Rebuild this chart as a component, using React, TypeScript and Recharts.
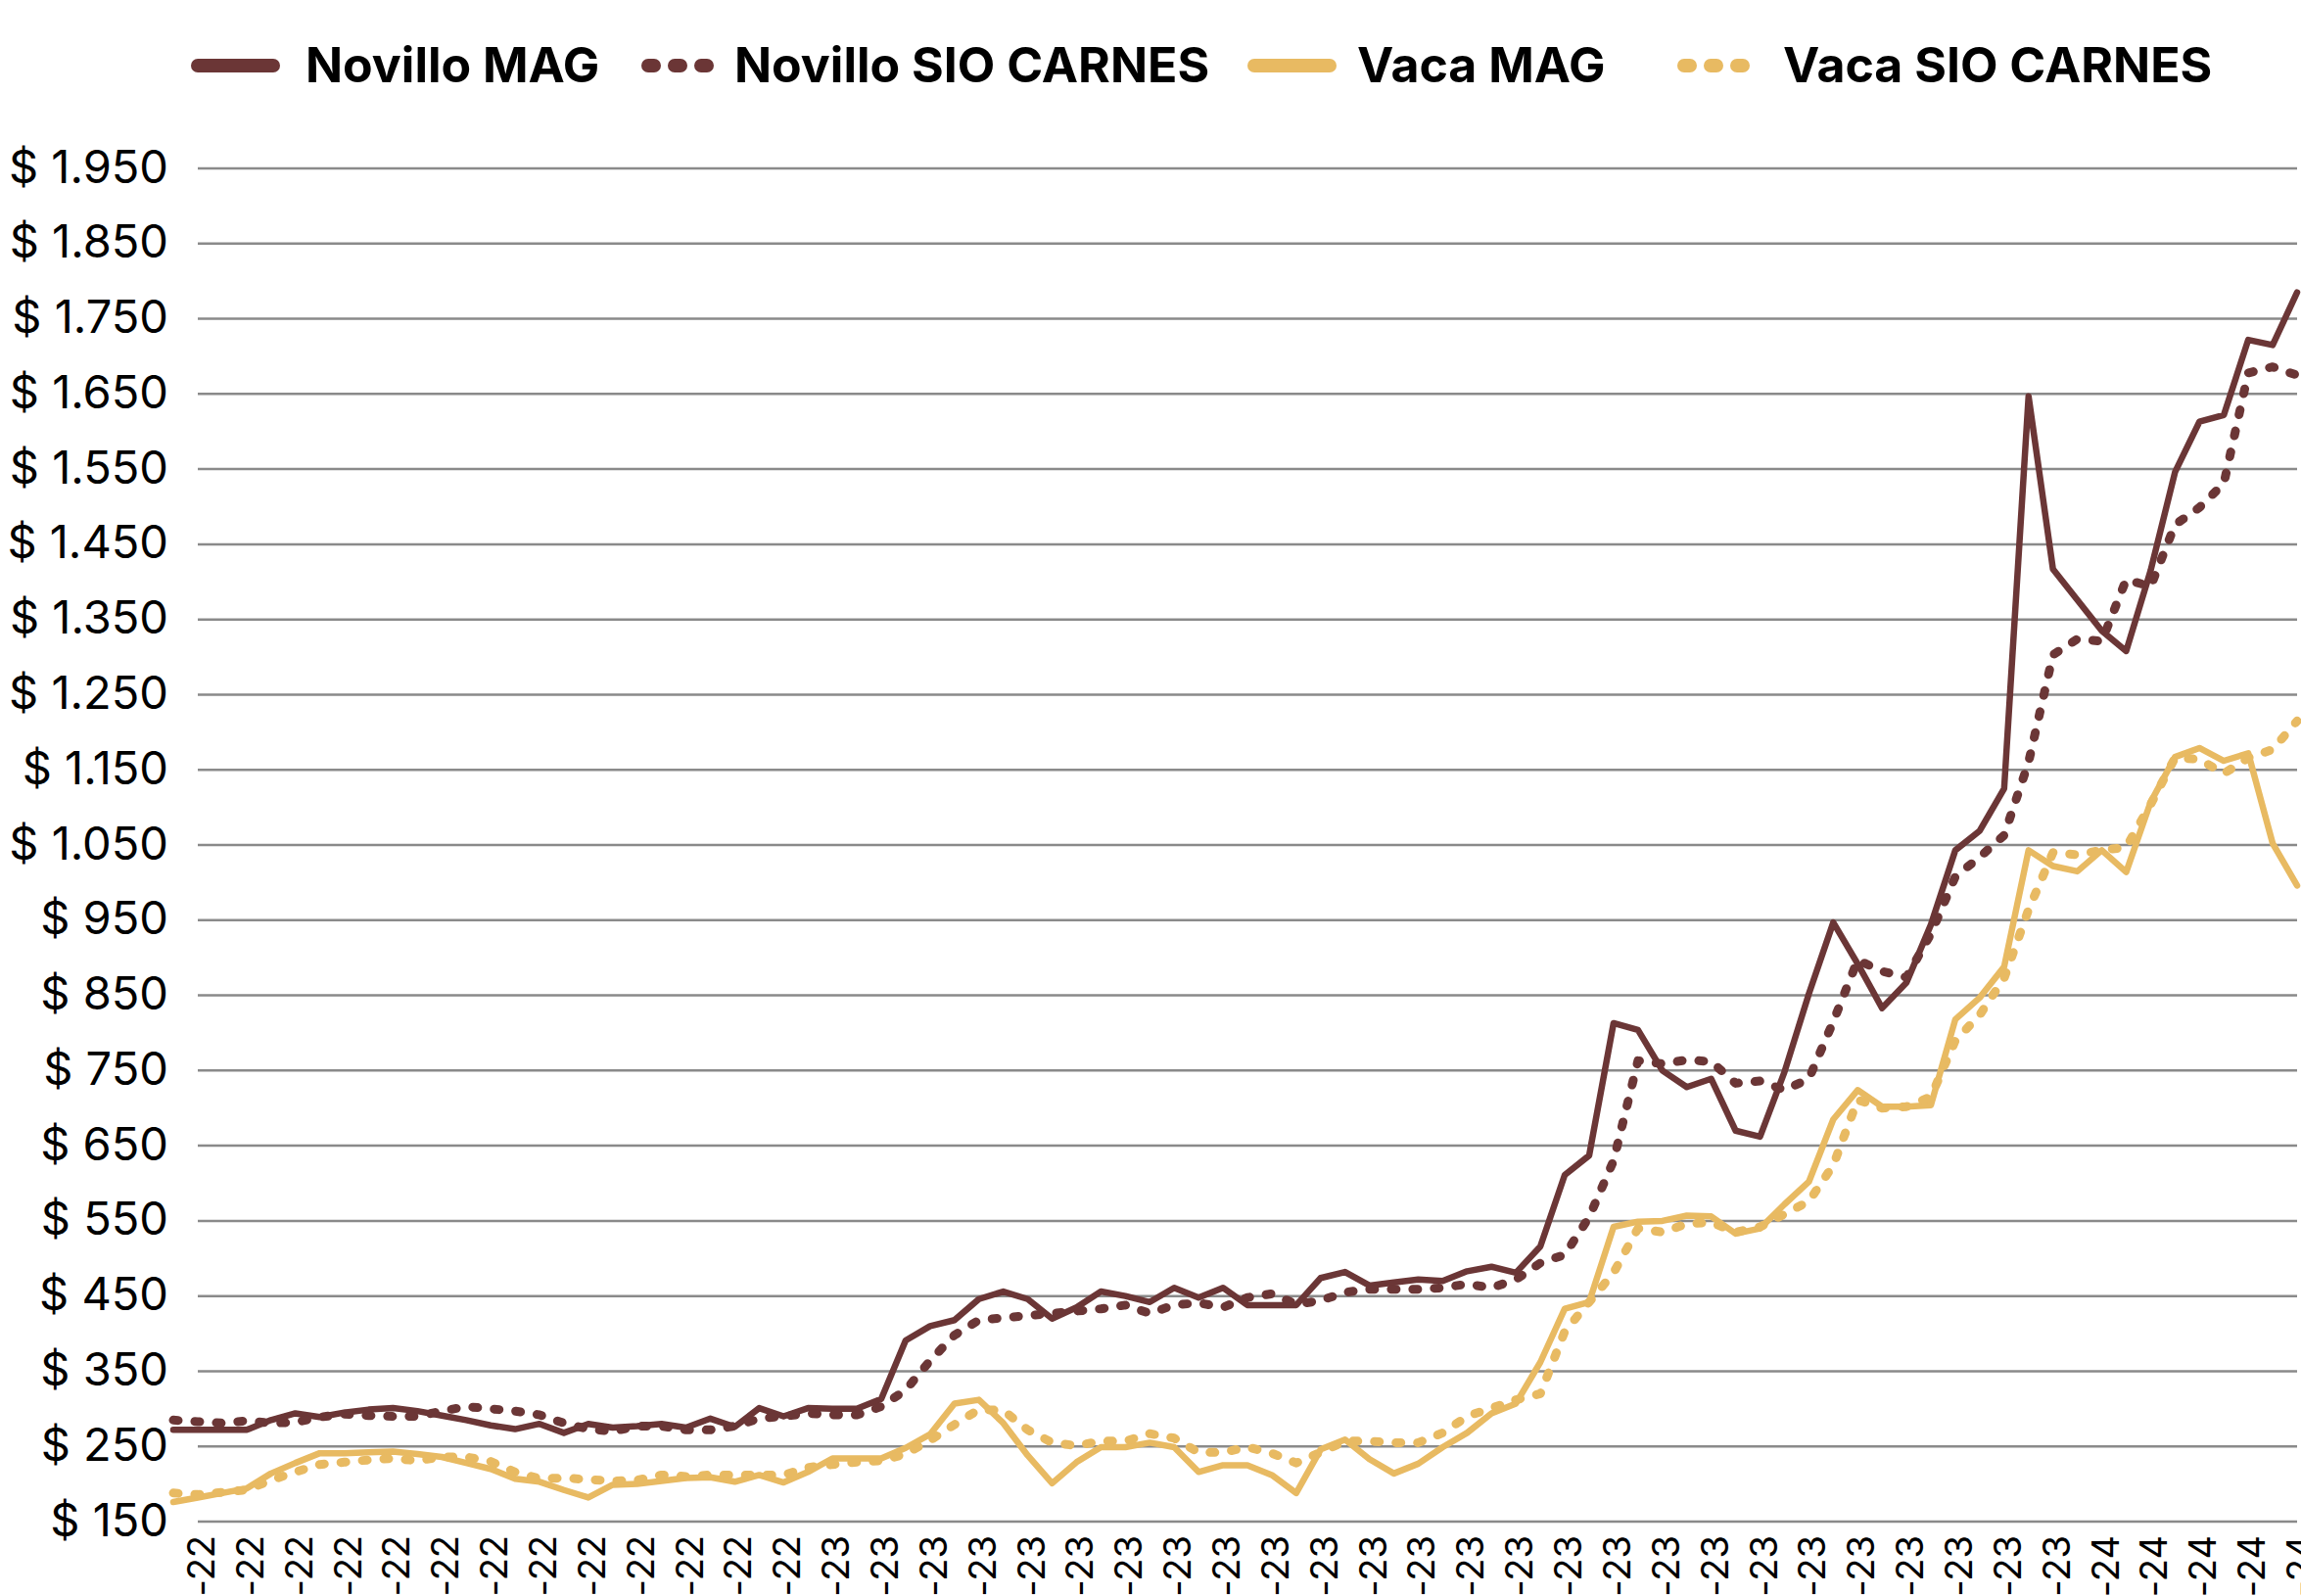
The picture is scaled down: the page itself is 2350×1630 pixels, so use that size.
import { CartesianGrid, Legend, Line, LineChart, XAxis, YAxis } from 'recharts';

// weekly price series, Jul-2022 .. Mar-2024
const weeks = [
  '1-jul-22', '8-jul-22', '15-jul-22', '22-jul-22', '29-jul-22', '5-ago-22', '12-ago-22', '19-ago-22',
  '26-ago-22', '2-sep-22', '9-sep-22', '16-sep-22', '23-sep-22', '30-sep-22', '7-oct-22', '14-oct-22',
  '21-oct-22', '28-oct-22', '4-nov-22', '11-nov-22', '18-nov-22', '25-nov-22', '2-dic-22', '9-dic-22',
  '16-dic-22', '23-dic-22', '30-dic-22', '6-ene-23', '13-ene-23', '20-ene-23', '27-ene-23', '3-feb-23',
  '10-feb-23', '17-feb-23', '24-feb-23', '3-mar-23', '10-mar-23', '17-mar-23', '24-mar-23', '31-mar-23',
  '7-abr-23', '14-abr-23', '21-abr-23', '28-abr-23', '5-may-23', '12-may-23', '19-may-23', '26-may-23',
  '2-jun-23', '9-jun-23', '16-jun-23', '23-jun-23', '30-jun-23', '7-jul-23', '14-jul-23', '21-jul-23',
  '28-jul-23', '4-ago-23', '11-ago-23', '18-ago-23', '25-ago-23', '1-sep-23', '8-sep-23', '15-sep-23',
  '22-sep-23', '29-sep-23', '6-oct-23', '13-oct-23', '20-oct-23', '27-oct-23', '3-nov-23', '10-nov-23',
  '17-nov-23', '24-nov-23', '1-dic-23', '8-dic-23', '15-dic-23', '22-dic-23', '29-dic-23', '5-ene-24',
  '12-ene-24', '19-ene-24', '26-ene-24', '2-feb-24', '9-feb-24', '16-feb-24', '23-feb-24', '1-mar-24',
];

const novilloMag = [
  272, 272, 272, 272, 285, 294, 289, 295, 299, 301,
  297, 291, 285, 278, 273, 280, 268, 280, 275, 277,
  280, 275, 287, 276, 301, 290, 301, 300, 300, 313,
  391, 410, 418, 446, 456, 446, 420, 435, 456, 450,
  442, 461, 448, 461, 438, 438, 438, 474, 482, 464,
  468, 472, 470, 483, 489, 481, 516, 611, 637, 813,
  804, 750, 728, 739, 670, 662, 748, 852, 947, 892,
  833, 867, 944, 1043, 1069, 1125, 1647, 1417, 1376, 1335,
  1308, 1415, 1546, 1613, 1622, 1722, 1715, 1785,
];

const novilloSio = [
  285, 283, 281, 284, 281, 282, 289, 293, 291, 290,
  290, 297, 303, 300, 297, 292, 281, 273, 270, 277,
  277, 272, 272, 277, 287, 290, 294, 292, 292, 303,
  325, 364, 398, 418, 421, 424, 427, 430, 433, 438,
  427, 438, 441, 435, 448, 453, 439, 444, 455, 459,
  459, 459, 461, 466, 461, 472, 494, 505, 555, 630,
  763, 759, 764, 762, 733, 736, 724, 739, 815, 897,
  882, 874, 932, 1008, 1034, 1063, 1160, 1303, 1324, 1321,
  1403, 1394, 1476, 1499, 1531, 1678, 1686, 1675,
];

const vacaMag = [
  176, 182, 188, 194, 214, 228, 241, 241, 242, 243,
  240, 236, 228, 220, 207, 203, 192, 182, 199, 200,
  204, 208, 209, 203, 212, 202, 216, 234, 234, 234,
  248, 266, 307, 312, 281, 238, 201, 229, 249, 249,
  255, 249, 216, 225, 225, 212, 188, 246, 259, 233,
  214, 227, 249, 268, 294, 307, 362, 433, 442, 542,
  549, 550, 557, 556, 533, 540, 572, 602, 685, 724,
  702, 702, 704, 818, 847, 888, 1043, 1022, 1015, 1043,
  1014, 1107, 1167, 1179, 1162, 1172, 1052, 996,
];

const vacaSio = [
  188, 186, 189, 192, 205, 216, 226, 229, 232, 234,
  231, 236, 236, 230, 216, 207, 208, 206, 204, 205,
  212, 210, 212, 212, 212, 212, 222, 226, 229, 231,
  240, 258, 279, 299, 298, 272, 255, 251, 257, 257,
  267, 261, 242, 242, 249, 241, 228, 242, 257, 257,
  255, 255, 268, 290, 301, 312, 320, 403, 442, 481,
  540, 535, 546, 548, 535, 542, 559, 576, 624, 711,
  700, 702, 715, 790, 824, 873, 964, 1040, 1037, 1043,
  1047, 1104, 1166, 1164, 1145, 1166, 1177, 1215,
];

const yTicks = [150, 250, 350, 450, 550, 650, 750, 850, 950, 1050, 1150, 1250, 1350, 1450, 1550, 1650, 1750, 1850, 1950];

const MAROON = '#6B3636';
const GOLD = '#E8BA62';
const FONT = 'Inter, "Open Sans", sans-serif';

const series = [
  { key: 'novilloMag', name: 'Novillo MAG', color: MAROON, dotted: false },
  { key: 'novilloSio', name: 'Novillo SIO CARNES', color: MAROON, dotted: true },
  { key: 'vacaMag', name: 'Vaca MAG', color: GOLD, dotted: false },
  { key: 'vacaSio', name: 'Vaca SIO CARNES', color: GOLD, dotted: true },
];

// legend placement (swatch left, text left) in page pixels
const legendLayout = [
  { swatch: 195, text: 312 },
  { swatch: 655, text: 750 },
  { swatch: 1274, text: 1386 },
  { swatch: 1713, text: 1821 },
];

const data = weeks.map((week, i) => ({
  week,
  novilloMag: novilloMag[i],
  novilloSio: novilloSio[i],
  vacaMag: vacaMag[i],
  vacaSio: vacaSio[i],
}));

function formatMoney(v: number): string {
  if (v >= 1000) {
    return `$ ${Math.floor(v / 1000)}.${String(v % 1000).padStart(3, '0')}`;
  }
  return `$ ${v}`;
}

function YTick({ y, payload }: any) {
  return (
    <text
      x={172}
      y={y}
      dy={-3}
      textAnchor="end"
      dominantBaseline="central"
      fontSize={47}
      fontFamily={FONT}
      fill="#000"
    >
      {formatMoney(payload.value)}
    </text>
  );
}

function XTick({ x, y, payload, index }: any) {
  if (index % 2 === 0) return <g />;
  return (
    <text
      transform={`translate(${x + 3},${y}) rotate(-90)`}
      textAnchor="end"
      dominantBaseline="central"
      fontSize={38}
      fontFamily={FONT}
      fill="#000"
    >
      {payload.value}
    </text>
  );
}

function LegendContent() {
  return (
    <div style={{ position: 'relative', width: 2350, height: 130, fontFamily: FONT }}>
      {series.map((s, i) => (
        <div key={s.key}>
          <svg
            width={95}
            height={20}
            style={{ position: 'absolute', left: legendLayout[i].swatch, top: 57 }}
          >
            {s.dotted ? (
              <line x1={7} y1={10} x2={67} y2={10} stroke={s.color} strokeWidth={14}
                strokeLinecap="round" strokeDasharray="6 21" />
            ) : (
              <line x1={7} y1={10} x2={84} y2={10} stroke={s.color} strokeWidth={14}
                strokeLinecap="round" />
            )}
          </svg>
          <span
            style={{
              position: 'absolute',
              left: legendLayout[i].text,
              top: 36,
              lineHeight: '60px',
              fontSize: 50,
              fontWeight: 700,
              color: '#000',
              whiteSpace: 'nowrap',
            }}
          >
            {s.name}
          </span>
        </div>
      ))}
    </div>
  );
}

export default function App() {
  return (
    <div
      style={{
        position: 'absolute',
        left: 0,
        top: 0,
        width: 2350,
        height: 1630,
        overflow: 'hidden',
        background: '#fff',
      }}
    >
      <LineChart width={2350} height={1630} data={data} margin={{ top: 172, right: 4, bottom: 0, left: 0 }}>
        <CartesianGrid
          vertical={false}
          horizontal={(p: any) => (
            <line key={`h-${p.index}`} x1={202} y1={p.y1} x2={p.x2} y2={p.y2} stroke="#8a8a8a" strokeWidth={2.5} />
          )}
        />
        <XAxis
          dataKey="week"
          interval={0}
          axisLine={false}
          tickLine={false}
          tickSize={0}
          tickMargin={14}
          height={76}
          tick={(props: any) => <XTick {...props} />}
        />
        <YAxis
          width={177}
          domain={[150, 1950]}
          ticks={yTicks}
          allowDataOverflow
          axisLine={false}
          tickLine={false}
          tick={(props: any) => <YTick {...props} />}
        />
        <Legend
          layout="horizontal"
          align="center"
          verticalAlign="middle"
          wrapperStyle={{ top: 0, left: 0, width: 2350, height: 130 }}
          content={() => <LegendContent />}
        />
        {series.map((s) => (
          <Line
            key={s.key}
            type="linear"
            dataKey={s.key}
            name={s.name}
            stroke={s.color}
            strokeWidth={s.dotted ? 9 : 6.5}
            strokeDasharray={s.dotted ? '5 17' : undefined}
            strokeLinecap="round"
            strokeLinejoin="round"
            dot={false}
            activeDot={false}
            isAnimationActive={false}
          />
        ))}
      </LineChart>
    </div>
  );
}
